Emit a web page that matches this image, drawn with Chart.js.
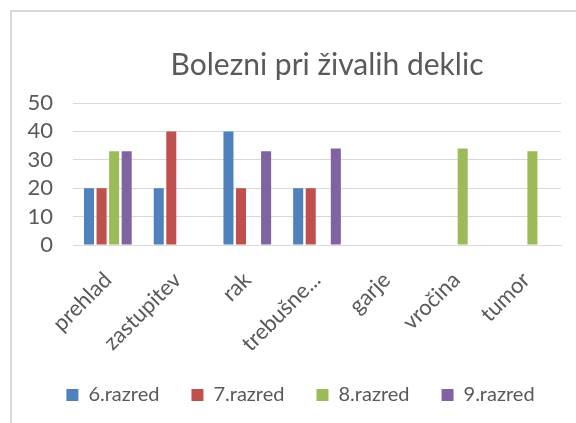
<!DOCTYPE html>
<html>
<head>
<meta charset="utf-8">
<script src="https://cdn.jsdelivr.net/npm/chart.js@4"></script>
<style>
  html, body { margin: 0; padding: 0; background: #fff; }
  #frame {
    position: absolute; left: 10px; top: 10px;
    width: 566px; height: 413px;
    border-left: 2px solid #d9d9d9; border-top: 2px solid #d9d9d9;
  }
  #wrap { position: absolute; left: 0; top: 0; width: 564px; height: 411px; }
</style>
</head>
<body>
<div id="frame"><div id="wrap"><canvas id="chart"></canvas></div></div>
<script>
// data
const categories = ['prehlad', 'zastupitev', 'rak', 'trebušne...', 'garje', 'vročina', 'tumor'];
const razred6 = [20, 20, 40, 20, null, null, null];
const razred7 = [20, 40, 20, 20, null, null, null];
const razred8 = [33, null, null, null, null, 34, 33];
const razred9 = [33, null, 33, 34, null, null, null];
const yTicks = [0, 10, 20, 30, 40, 50];

const textColor = '#595959';
const font = 'Lato, "Open Sans", sans-serif';

// nudge title and legend a little right, like the original
const nudge = {
    id: 'nudge',
    afterLayout(chart) {
        chart.titleBlock.left += 20;
        chart.legend.left += 14;
        chart.legend.right += 14;
    }
};

var context = document.getElementById('chart').getContext('2d');

var chart = new Chart(context, {
    type: 'bar',
    data: {
        labels: categories,
        datasets: [
            { label: '6.razred', data: razred6, backgroundColor: '#4f81bd' },
            { label: '7.razred', data: razred7, backgroundColor: '#c0504d' },
            { label: '8.razred', data: razred8, backgroundColor: '#9bbb59' },
            { label: '9.razred', data: razred9, backgroundColor: '#8064a2' }
        ]
    },
    plugins: [nudge],
    options: {
        responsive: true,
        maintainAspectRatio: false,
        animation: false,
        categoryPercentage: 0.72,
        barPercentage: 0.8,
        layout: { padding: { left: 0, right: 15, top: 0, bottom: 8 } },
        plugins: {
            title: {
                display: true,
                fullSize: false,
                text: 'Bolezni pri živalih deklic',
                color: textColor,
                font: { family: font, size: 30, weight: 'normal' },
                padding: { top: 35, bottom: 20 }
            },
            legend: {
                position: 'bottom',
                labels: {
                    color: textColor,
                    font: { family: font, size: 20 },
                    boxWidth: 12,
                    boxHeight: 12,
                    padding: 32
                }
            },
            tooltip: { enabled: false }
        },
        scales: {
            x: {
                afterFit: axis => { axis.height = 108; },
                grid: { display: false },
                border: { color: '#d9d9d9', width: 1 },
                ticks: {
                    color: textColor,
                    font: { family: font, size: 22 },
                    minRotation: 45,
                    maxRotation: 45,
                    padding: 14,
                    autoSkip: false
                }
            },
            y: {
                min: 0,
                max: 50,
                afterBuildTicks: axis => { axis.ticks = yTicks.map(v => ({ value: v })); },
                afterFit: axis => { axis.width = 61; },
                grid: { color: '#d9d9d9', lineWidth: 1, drawTicks: false },
                border: { display: false },
                ticks: {
                    color: textColor,
                    font: { family: font, size: 22 },
                    padding: 20,
                    autoSkip: false
                }
            }
        }
    }
});
</script>
</body>
</html>
